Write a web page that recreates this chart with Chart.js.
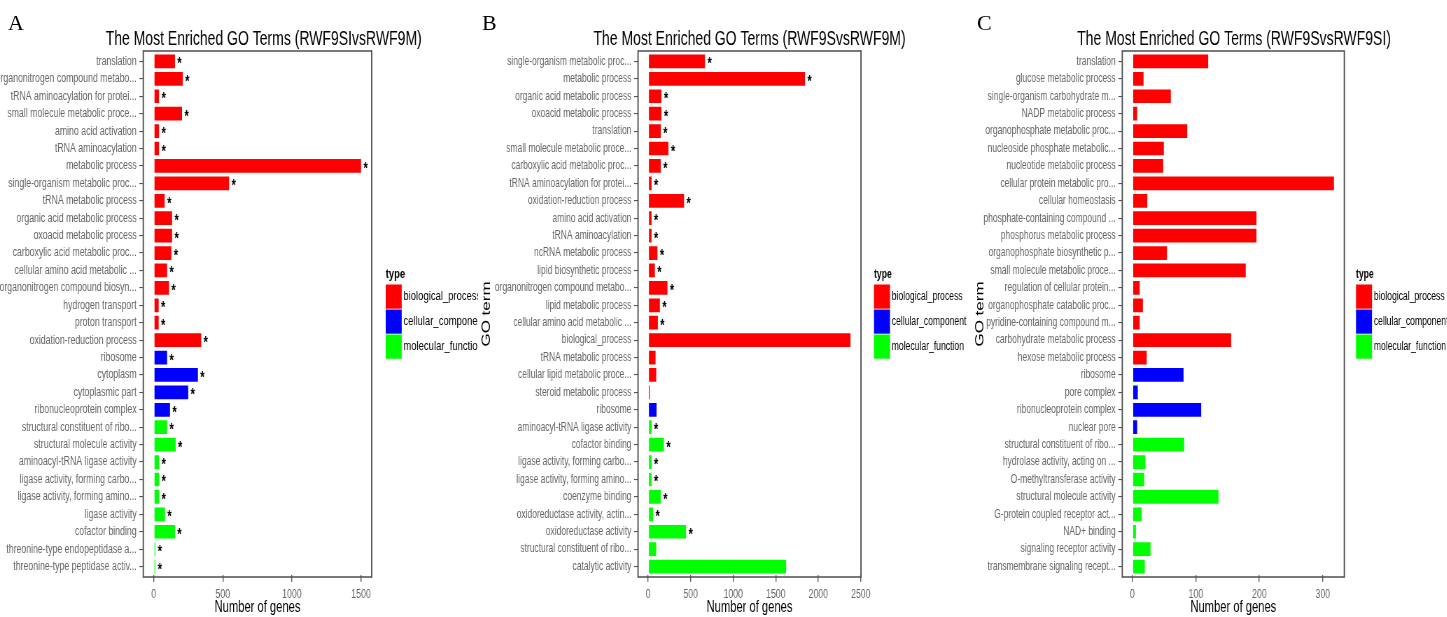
<!DOCTYPE html>
<html>
<head>
<meta charset="utf-8">
<script src="https://cdn.jsdelivr.net/npm/chart.js@4.4.1/dist/chart.umd.min.js"></script>
<style>
  html, body { margin: 0; padding: 0; background: #fff; }
  #page { position: relative; width: 1447px; height: 617px; overflow: hidden; background: #fff; }
  .panel { position: absolute; top: 0; height: 617px; overflow: hidden; }
  .panel canvas { position: absolute; left: 0; top: 0; transform: scaleX(0.7); transform-origin: 0 0; }
  .tag { position: absolute; font-family: "Liberation Serif", "Times New Roman", serif; font-size: 22px; line-height: 22px; color: #000; }
</style>
</head>
<body>
<div id="page">
  <div class="panel" style="left:0;width:478px"><canvas id="cA" width="683" height="617"></canvas></div>
  <div class="panel" style="left:478px;width:490px"><canvas id="cB" width="700" height="617"></canvas></div>
  <div class="panel" style="left:968px;width:479px"><canvas id="cC" width="685" height="617"></canvas></div>
  <div class="tag" style="left:8px;top:12px">A</div>
  <div class="tag" style="left:482px;top:12px">B</div>
  <div class="tag" style="left:977px;top:12px">C</div>
</div>
<script>
// Each panel canvas is drawn wide and squeezed horizontally by this factor (see CSS).
const SQ = 0.7;
const FONT = '"Liberation Sans", Arial, Helvetica, sans-serif';

const typeNames = ['biological_process', 'cellular_component', 'molecular_function'];
const typeColors = ['#FF0000', '#0000FF', '#00FF00'];

// ---- A: RWF9SI vs RWF9M ----
const termsA = [
  'translation', 'organonitrogen compound metabo...', 'tRNA aminoacylation for protei...',
  'small molecule metabolic proce...', 'amino acid activation', 'tRNA aminoacylation',
  'metabolic process', 'single-organism metabolic proc...', 'tRNA metabolic process',
  'organic acid metabolic process', 'oxoacid metabolic process', 'carboxylic acid metabolic proc...',
  'cellular amino acid metabolic ...', 'organonitrogen compound biosyn...', 'hydrogen transport',
  'proton transport', 'oxidation-reduction process', 'ribosome', 'cytoplasm', 'cytoplasmic part',
  'ribonucleoprotein complex', 'structural constituent of ribo...', 'structural molecule activity',
  'aminoacyl-tRNA ligase activity', 'ligase activity, forming carbo...', 'ligase activity, forming amino...',
  'ligase activity', 'cofactor binding', 'threonine-type endopeptidase a...', 'threonine-type peptidase activ...'
];
const countsA = [156, 212, 41, 207, 41, 41, 1502, 548, 82, 135, 135, 130, 99, 113, 38,
                 38, 346, 99, 322, 252, 120, 99, 161, 41, 41, 41, 84, 156, 14, 14];
const typesA  = [0,0,0,0,0,0,0,0,0,0,0,0,0,0,0,0,0, 1,1,1,1, 2,2,2,2,2,2,2,2,2];
const starsA  = [1,1,1,1,1,1,1,1,1,1,1,1,1,1,1,1,1,1,1,1,1,1,1,1,1,1,1,1,1,1];
const ticksA  = [0, 500, 1000, 1500];

// ---- B: RWF9S vs RWF9M ----
const termsB = [
  'single-organism metabolic proc...', 'metabolic process', 'organic acid metabolic process',
  'oxoacid metabolic process', 'translation', 'small molecule metabolic proce...',
  'carboxylic acid metabolic proc...', 'tRNA aminoacylation for protei...', 'oxidation-reduction process',
  'amino acid activation', 'tRNA aminoacylation', 'ncRNA metabolic process', 'lipid biosynthetic process',
  'organonitrogen compound metabo...', 'lipid metabolic process', 'cellular amino acid metabolic ...',
  'biological_process', 'tRNA metabolic process', 'cellular lipid metabolic proce...',
  'steroid metabolic process', 'ribosome', 'aminoacyl-tRNA ligase activity', 'cofactor binding',
  'ligase activity, forming carbo...', 'ligase activity, forming amino...', 'coenzyme binding',
  'oxidoreductase activity, actin...', 'oxidoreductase activity', 'structural constituent of ribo...',
  'catalytic activity'
];
const countsB = [672, 1848, 160, 160, 152, 242, 152, 43, 426, 43, 43, 113, 82, 230, 141, 117,
                 2383, 90, 98, 23, 102, 43, 188, 43, 43, 152, 62, 449, 98, 1625];
const typesB  = [0,0,0,0,0,0,0,0,0,0,0,0,0,0,0,0,0,0,0,0, 1, 2,2,2,2,2,2,2,2,2];
const starsB  = [1,1,1,1,1,1,1,1,1,1,1,1,1,1,1,1, 0,0,0,0,0, 1,1,1,1,1,1,1, 0,0];
const ticksB  = [0, 500, 1000, 1500, 2000, 2500];

// ---- C: RWF9S vs RWF9SI ----
const termsC = [
  'translation', 'glucose metabolic process', 'single-organism carbohydrate m...', 'NADP metabolic process',
  'organophosphate metabolic proc...', 'nucleoside phosphate metabolic...', 'nucleotide metabolic process',
  'cellular protein metabolic pro...', 'cellular homeostasis', 'phosphate-containing compound ...',
  'phosphorus metabolic process', 'organophosphate biosynthetic p...', 'small molecule metabolic proce...',
  'regulation of cellular protein...', 'organophosphate catabolic proc...', 'pyridine-containing compound m...',
  'carbohydrate metabolic process', 'hexose metabolic process', 'ribosome', 'pore complex',
  'ribonucleoprotein complex', 'nuclear pore', 'structural constituent of ribo...',
  'hydrolase activity, acting on ...', 'O-methyltransferase activity', 'structural molecule activity',
  'G-protein coupled receptor act...', 'NAD+ binding', 'signaling receptor activity',
  'transmembrane signaling recept...'
];
const countsC = [120, 18, 61, 8, 87, 50, 49, 318, 24, 196, 196, 55, 179, 12, 17, 12, 156, 23,
                 81, 9, 109, 8, 82, 21, 19, 136, 15, 6, 29, 20];
const typesC  = [0,0,0,0,0,0,0,0,0,0,0,0,0,0,0,0,0,0, 1,1,1,1, 2,2,2,2,2,2,2,2];
const starsC  = [0,0,0,0,0,0,0,0,0,0,0,0,0,0,0,0,0,0,0,0,0,0,0,0,0,0,0,0,0,0];
const ticksC  = [0, 100, 200, 300];

// Vertical layout shared by the panels (frame 51..577, 0.6-band margin like a discrete axis)
const FRAME_TOP = 51, FRAME_BOTTOM = 577, NROWS = 30;
const BAND = (FRAME_BOTTOM - FRAME_TOP) / (NROWS + 0.2);
const AREA_TOP = FRAME_TOP + 0.1 * BAND;
const AREA_BOTTOM = FRAME_BOTTOM - 0.1 * BAND;

// Frame, significance marks, title, axis title and type legend
const panelDecor = {
  id: 'panelDecor',
  afterDraw(chart, args, o) {
    const ctx = chart.ctx, a = chart.chartArea;
    const ext = (a.bottom - a.top) / chart.data.labels.length * 0.1;
    ctx.save();
    ctx.strokeStyle = '#4d4d4d';
    ctx.lineWidth = 1.3;
    ctx.beginPath();
    ctx.moveTo(a.left, a.top - ext); ctx.lineTo(a.right, a.top - ext);
    ctx.moveTo(a.left, a.bottom + ext); ctx.lineTo(a.right, a.bottom + ext);
    ctx.stroke();
    ctx.lineWidth = 1.3 / SQ;
    ctx.beginPath();
    ctx.moveTo(a.left, a.top - ext - 0.65); ctx.lineTo(a.left, a.bottom + ext + 0.65);
    ctx.moveTo(a.right, a.top - ext - 0.65); ctx.lineTo(a.right, a.bottom + ext + 0.65);
    ctx.stroke();

    // significance asterisks at the bar ends
    const meta = chart.getDatasetMeta(0);
    ctx.fillStyle = '#000';
    ctx.font = 'bold 16px ' + FONT;
    ctx.textAlign = 'left';
    ctx.textBaseline = 'alphabetic';
    o.stars.forEach((s, i) => {
      if (s) {
        const el = meta.data[i];
        ctx.fillText('*', el.x + 3, el.y + 8);
      }
    });

    // chart title
    ctx.font = '20px ' + FONT;
    ctx.textAlign = 'center';
    ctx.fillText(o.title, o.titleX, 45);

    // y axis title
    if (o.goX != null) {
      ctx.save();
      ctx.translate(o.goX, (a.top + a.bottom) / 2);
      ctx.rotate(-Math.PI / 2);
      ctx.font = '17px ' + FONT;
      ctx.textAlign = 'center';
      ctx.textBaseline = 'middle';
      ctx.fillText('GO term', 0, 0);
      ctx.restore();
    }

    // legend
    ctx.textAlign = 'left';
    ctx.textBaseline = 'alphabetic';
    ctx.font = 'bold ' + o.legendFont + 'px ' + FONT;
    ctx.fillText('type', o.legendX, 277.5);
    const kw = 16 / SQ;
    typeNames.forEach((t, k) => {
      const y0 = 284.5 + k * 25;
      ctx.fillStyle = typeColors[k];
      ctx.fillRect(o.legendX, y0, kw, 24.2);
      ctx.fillStyle = '#000';
      ctx.font = o.legendFont + 'px ' + FONT;
      ctx.textBaseline = 'middle';
      ctx.fillText(t, o.legendX + kw + 2.5, y0 + 12.1);
    });
    ctx.restore();
  }
};

function drawPanel(p) {
  const canvas = document.getElementById(p.canvas);
  const W = canvas.width, H = canvas.height;
  const maxVal = Math.max(...p.counts);
  new Chart(canvas, {
    type: 'bar',
    data: {
      labels: p.terms,
      datasets: [{
        data: p.counts,
        backgroundColor: p.types.map(t => typeColors[t]),
        borderColor: 'rgba(255,255,255,0.5)',
        borderWidth: { top: 1, bottom: 1, left: 0.4, right: 0.4 },
        borderSkipped: false,
        barPercentage: 0.9,
        categoryPercentage: 1
      }]
    },
    options: {
      indexAxis: 'y',
      responsive: false,
      animation: false,
      events: [],
      layout: { padding: { top: AREA_TOP, right: W - p.right, bottom: 0, left: 0 } },
      plugins: {
        legend: { display: false },
        tooltip: { enabled: false },
        title: { display: false },
        panelDecor: { stars: p.stars, title: p.title, titleX: p.titleX, goX: p.goX,
                      legendX: p.legendX, legendFont: p.legendFont }
      },
      scales: {
        x: {
          type: 'linear',
          min: -0.05 * maxVal,
          max: 1.05 * maxVal,
          afterBuildTicks(s) { s.ticks = p.ticks.map(v => ({ value: v })); },
          afterFit(s) { s.height = H - AREA_BOTTOM; },
          ticks: { color: '#666', font: { family: FONT, size: 12.5 }, padding: 5, maxRotation: 0,
                   callback: v => String(v) },
          grid: { display: true, drawOnChartArea: false, drawTicks: true, tickLength: 6.5, color: '#555', lineWidth: 1.4 },
          border: { display: false },
          title: { display: true, text: 'Number of genes', color: '#000', font: { family: FONT, size: 16 }, padding: { top: 0, bottom: 0 } }
        },
        y: {
          type: 'category',
          offset: true,
          afterFit(s) { s.width = p.left; },
          ticks: { color: '#666', font: { family: FONT, size: p.labelFont }, padding: 3.8, autoSkip: false },
          grid: { display: true, offset: false, drawOnChartArea: false, drawTicks: true, tickLength: 5.7, color: '#555', lineWidth: 1.1 },
          border: { display: false }
        }
      }
    },
    plugins: [panelDecor]
  });
}

drawPanel({ canvas: 'cA', terms: termsA, counts: countsA, types: typesA, stars: starsA, ticks: ticksA,
  title: 'The Most Enriched GO Terms (RWF9SIvsRWF9M)', titleX: 376.7, labelFont: 12.5,
  left: 204.7, right: 531.0, goX: null, legendX: 551.0, legendFont: 13.5 });
drawPanel({ canvas: 'cB', terms: termsB, counts: countsB, types: typesB, stars: starsB, ticks: ticksB,
  title: 'The Most Enriched GO Terms (RWF9SvsRWF9M)', titleX: 387.9, labelFont: 12.1,
  left: 228.6, right: 547.1, goX: 12.4, legendX: 565.7, legendFont: 12.3 });
drawPanel({ canvas: 'cC', terms: termsC, counts: countsC, types: typesC, stars: starsC, ticks: ticksC,
  title: 'The Most Enriched GO Terms (RWF9SvsRWF9SI)', titleX: 380.0, labelFont: 12.1,
  left: 220.4, right: 537.6, goX: 17.1, legendX: 554.3, legendFont: 12.3 });
</script>
</body>
</html>
